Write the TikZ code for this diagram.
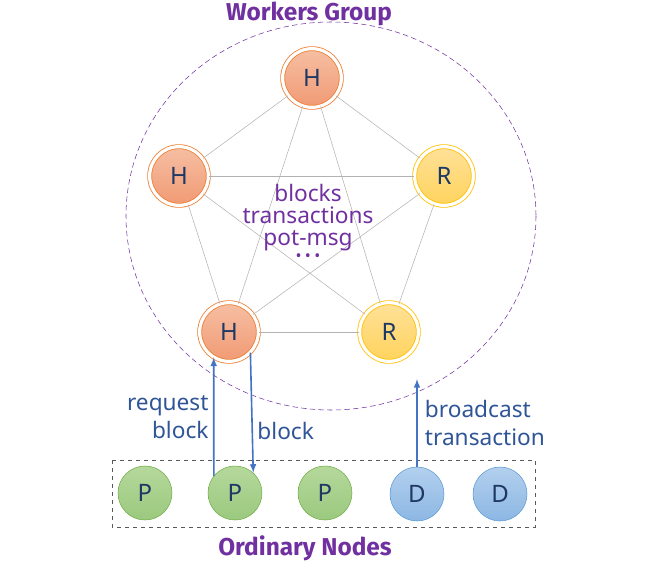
\documentclass[tikz,border=0pt]{standalone}
\usepackage{fontspec}
\setmainfont{Noto Sans}
\newfontfamily\headfont{Fira Sans}
\usetikzlibrary{arrows}
\usetikzlibrary{positioning}
\definecolor{grpurple}{HTML}{7030A0}
\definecolor{lblue}{HTML}{2F5597}
\definecolor{arblue}{HTML}{4472C4}
\definecolor{letter}{HTML}{1F3864}
\definecolor{hring}{HTML}{ED7D31}
\definecolor{htop}{HTML}{F6BFA3}
\definecolor{hbot}{HTML}{F19A74}
\definecolor{rring}{HTML}{FFC000}
\definecolor{rtop}{HTML}{FFE199}
\definecolor{rbot}{HTML}{FFD35C}
\definecolor{pring}{HTML}{70AD47}
\definecolor{ptop}{HTML}{B5D89C}
\definecolor{pbot}{HTML}{9BC97E}
\definecolor{dring}{HTML}{5B9BD5}
\definecolor{dtop}{HTML}{B3D0EE}
\definecolor{dbot}{HTML}{8CB7E3}
\tikzstyle{title} = [text=grpurple, font=\headfont\bfseries\fontsize{18.3}{18.3}\selectfont]
\tikzstyle{group} = [draw=grpurple, dash pattern=on 4pt off 2.5pt, thin]
\tikzstyle{hnode} = [circle, minimum size=44pt, inner sep=0pt, draw=hring, line width=0.6pt, double=white, double distance=2.4pt, top color=htop, bottom color=hbot, text=letter, font=\fontsize{18}{18}\selectfont]
\tikzstyle{rnode} = [circle, minimum size=44pt, inner sep=0pt, draw=rring, line width=0.6pt, double=white, double distance=2.4pt, top color=rtop, bottom color=rbot, text=letter, font=\fontsize{18}{18}\selectfont]
\tikzstyle{pnode} = [circle, minimum size=40.5pt, inner sep=0pt, draw=pring, top color=ptop, bottom color=pbot, text=letter, font=\fontsize{18}{18}\selectfont]
\tikzstyle{dnode} = [circle, minimum size=40.5pt, inner sep=0pt, draw=dring, top color=dtop, bottom color=dbot, text=letter, font=\fontsize{18}{18}\selectfont]
\tikzstyle{link} = [draw=gray!60, thin]
\tikzstyle{box} = [draw=gray!70!black, dashed, thin]
\tikzstyle{msg} = [text=grpurple, align=center, font=\fontsize{17}{16.5}\selectfont]
\tikzstyle{label} = [text=lblue, font=\fontsize{17}{21}\selectfont]
\tikzstyle{arrow} = [line width=1.2pt,-latex,draw=arblue]

\begin{document}
\begin{tikzpicture}[x=0.75pt,y=-0.75pt]
\useasboundingbox (0,0) rectangle (648,574);

\node (wg) [title] at (309,14) {Workers Group};
\draw [group] (331,216) ellipse (205 and 194);

\node (h1) [hnode] at (312,78) {H};
\node (h2) [hnode] at (179,176) {H};
\node (r1) [rnode] at (444,176) {R};
\node (h3) [hnode] at (229,332) {H};
\node (r2) [rnode] at (389,332) {R};

\foreach \a/\b in {h1/h2, h1/r1, h1/h3, h1/r2, h2/r1, h2/h3, h2/r2, r1/h3, r1/r2, h3/r2}
  \draw [link] (\a) -- (\b);

\node (msgs) [msg] at (308,218) {blocks\\transactions\\pot-msg};
\node (more) [msg, below=-5pt of msgs, font=\fontsize{12}{12}\selectfont] {\textbullet\hspace{2.5pt}\textbullet\hspace{2.5pt}\textbullet};

\node (p1) [pnode] at (145,493) {P};
\node (p2) [pnode] at (235,493) {P};
\node (p3) [pnode] at (325,493) {P};
\node (d1) [dnode] at (417,494) {D};
\node (d2) [dnode] at (500,494) {D};
\draw [box] (112,460) rectangle (535,527);
\node (on) [title] at (305,548) {Ordinary Nodes};

\coordinate (gate) at (417,379);

\draw [arrow] (p2.141) -- node[label, left, align=right] {request\\block} (h3.239);
\draw [arrow] (h3.-44) -- node[label, right, pos=0.65] {block} (p2.48);
\draw [arrow] (d1.north) -- node[label, right, align=left, xshift=2pt] {broadcast\\transaction} (gate);

\end{tikzpicture}
\end{document}
